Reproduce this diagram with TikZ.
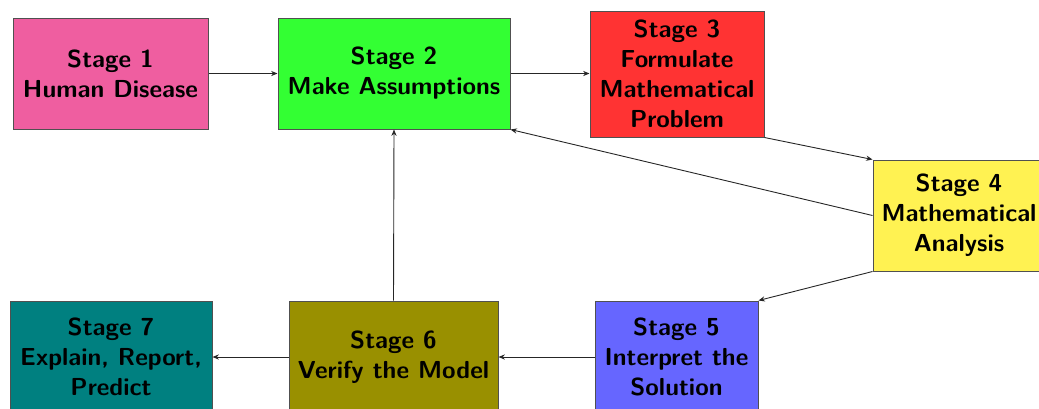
\documentclass[tikz,border=0pt]{standalone}
\usetikzlibrary{arrows.meta}
\definecolor{cone}{RGB}{239,94,160}
\definecolor{ctwo}{RGB}{51,255,51}
\definecolor{cthree}{RGB}{255,51,51}
\definecolor{cfour}{RGB}{255,242,82}
\definecolor{cfive}{RGB}{102,102,255}
\definecolor{csix}{RGB}{153,144,0}
\definecolor{cseven}{RGB}{0,128,128}
\definecolor{cedge}{RGB}{80,80,80}
\begin{document}
\begin{tikzpicture}[x=0.5pt,y=-0.5pt,
  stagebox/.style={draw=cedge, line width=0.5pt, inner sep=0pt, align=center,
    font=\fontsize{12.3}{15}\selectfont\sffamily\bfseries},
  conn/.style={draw=black!85, line width=0.45pt, -{Stealth[length=3.2pt,width=2.6pt]}}]
\useasboundingbox (0,0) rectangle (1039,408);
\clip (0,0) rectangle (1039,408);
\node[stagebox, fill=cone, minimum width=97.5pt, minimum height=55.5pt] (s1) at (110.5,73.5) {Stage 1\\Human Disease};
\node[stagebox, fill=ctwo, minimum width=116pt, minimum height=55.5pt] (s2) at (394,73.5) {Stage 2\\Make Assumptions};
\node[stagebox, fill=cthree, minimum width=87pt, minimum height=63pt] (s3) at (677,74) {Stage 3\\Formulate\\Mathematical\\Problem};
\node[stagebox, fill=cfour, minimum width=86pt, minimum height=55.5pt] (s4) at (959,215.5) {Stage 4\\Mathematical\\Analysis};
\node[stagebox, fill=cfive, minimum width=81.5pt, minimum height=56pt] (s5) at (676.5,357) {Stage 5\\Interpret the\\Solution};
\node[stagebox, fill=csix, minimum width=104.5pt, minimum height=56pt] (s6) at (393.5,357) {Stage 6\\Verify the Model};
\node[stagebox, fill=cseven, minimum width=101pt, minimum height=56pt] (s7) at (111,357) {Stage 7\\Explain, Report,\\Predict};
\draw[conn] (s1.east) -- (s2.west);
\draw[conn] (s2.east) -- (s3.west |- s2.east);
\draw[conn] (s3.south east) -- (s4.north west);
\draw[conn] (s4.west) -- (s2.south east);
\draw[conn] (s4.south west) -- (s5.north east);
\draw[conn] (s5.west) -- (s6.east);
\draw[conn] (s6.west) -- (s7.east);
\draw[conn] (s6.north) -- (s2.south);
\end{tikzpicture}
\end{document}
